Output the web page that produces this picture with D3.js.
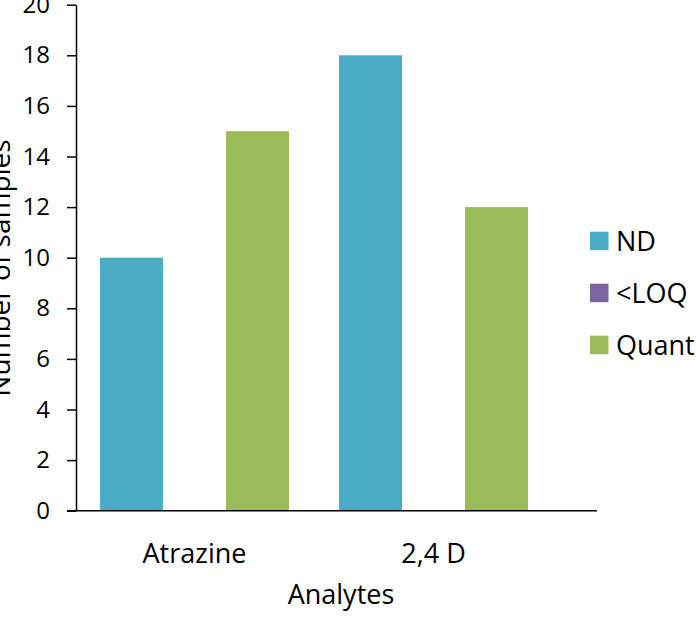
<!DOCTYPE html>
<html>
<head>
<meta charset="utf-8">
<script src="https://cdn.jsdelivr.net/npm/d3@7/dist/d3.min.js"></script>
<style>
  html, body { margin: 0; padding: 0; background: #fff; }
  svg { display: block; }
  text { font-family: "Open Sans", sans-serif; fill: #000; }
</style>
</head>
<body>
<svg id="chart" width="696" height="633"></svg>
<script>
// Sample counts per analyte, split by detection class
const categories = ["Atrazine", "2,4 D"];
const seriesNames = ["ND", "<LOQ", "Quant"];
const ndValues = [10, 18];
const loqValues = [0, 0];
const quantValues = [15, 12];
const yTicks = [0, 2, 4, 6, 8, 10, 12, 14, 16, 18, 20];
const colors = ["#4BACC6", "#8064A2", "#9BBB59"];

const seriesValues = [ndValues, loqValues, quantValues];
const rows = categories.map((c, i) => ({
  category: c,
  values: seriesNames.map((s, j) => ({ key: s, value: seriesValues[j][i], color: colors[j] }))
}));

const svg = d3.select("#chart");
const font = "'Open Sans', sans-serif";
const tickFont = "24px";
const labelFont = "27px";

const plotLeft = 76, plotRight = 597, plotTop = 4.7, plotBottom = 510.7;

const y = d3.scaleLinear().domain([0, 20]).range([plotBottom, plotTop]);
const x0 = d3.scaleBand().domain(categories).range([75, 553]).padding(0);
const x1 = d3.scaleBand().domain(seriesNames).range([0, x0.bandwidth()])
  .paddingInner(0).paddingOuter(0.397);

// Bars
const groups = svg.append("g").selectAll("g")
  .data(rows).join("g")
  .attr("transform", d => `translate(${x0(d.category)},0)`);

groups.selectAll("rect")
  .data(d => d.values).join("rect")
  .attr("x", d => x1(d.key))
  .attr("width", x1.bandwidth())
  .attr("y", d => y(d.value))
  .attr("height", d => y(0) - y(d.value))
  .attr("fill", d => d.color);

// Y axis
const yAxis = svg.append("g")
  .attr("transform", `translate(${plotLeft},0)`)
  .call(d3.axisLeft(y).tickValues(yTicks).tickSize(9).tickPadding(17).tickSizeOuter(0));
yAxis.select(".domain").attr("stroke", "#000").attr("stroke-width", 1.5);
yAxis.selectAll(".tick line").attr("stroke", "#000").attr("stroke-width", 1.5);
yAxis.selectAll(".tick text")
  .style("font-size", tickFont).attr("fill", "#000").attr("font-family", font);

// X axis
const xAxis = svg.append("g")
  .attr("transform", `translate(0,${plotBottom})`)
  .call(d3.axisBottom(x0).tickSize(0).tickSizeOuter(0));
xAxis.select(".domain")
  .attr("d", `M${plotLeft - 9},0H${plotRight}`)
  .attr("stroke", "#000").attr("stroke-width", 1.5);
xAxis.selectAll(".tick text")
  .attr("y", 563 - plotBottom).attr("dy", 0)
  .style("font-size", labelFont).attr("fill", "#000").attr("font-family", font);

// Axis titles
svg.append("text")
  .attr("x", 341).attr("y", 604)
  .attr("text-anchor", "middle")
  .style("font-size", labelFont)
  .text("Analytes");

svg.append("text")
  .attr("transform", "translate(10,268) rotate(-90)")
  .attr("text-anchor", "middle")
  .style("font-size", "28px")
  .text("Number of samples");

// Legend
const legend = svg.append("g").selectAll("g")
  .data(seriesNames).join("g")
  .attr("transform", (d, i) => `translate(590,${241 + i * 52})`);
legend.append("rect")
  .attr("x", 0).attr("y", -9.3).attr("width", 18.5).attr("height", 18.5)
  .attr("fill", (d, i) => colors[i]);
legend.append("text")
  .attr("x", 26).attr("y", 9.5)
  .style("font-size", labelFont)
  .text(d => d);
</script>
</body>
</html>
